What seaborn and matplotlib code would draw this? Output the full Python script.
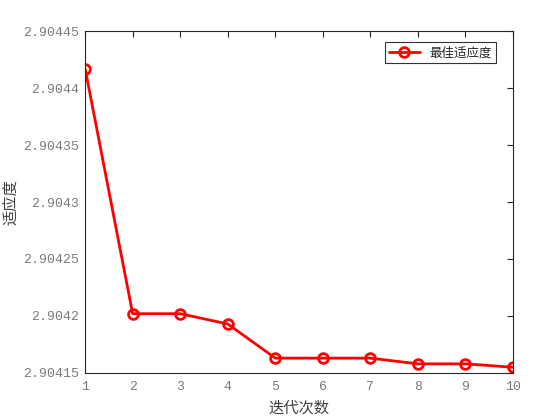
import matplotlib
matplotlib.use("Agg")
import matplotlib.pyplot as plt
import pandas as pd
import seaborn as sns
from matplotlib.ticker import FuncFormatter

iterations = [1, 2, 3, 4, 5, 6, 7, 8, 9, 10]
best_fitness = [2.904417, 2.904202, 2.904202, 2.904193, 2.904163,
                2.904163, 2.904163, 2.904158, 2.904158, 2.904155]
y_ticks = [2.90415, 2.9042, 2.90425, 2.9043, 2.90435, 2.9044, 2.90445]

sns.set_style("white")
plt.rcParams["font.family"] = ["Noto Sans CJK SC", "DejaVu Sans"]

df = pd.DataFrame({"iter": iterations, "fit": best_fitness})

fig = plt.figure(figsize=(5.6, 4.2), dpi=100)
ax = fig.add_axes([0.152, 0.112, 0.764, 0.814])
sns.lineplot(data=df, x="iter", y="fit", ax=ax, color="red", lw=2,
             marker="o", markersize=7, markerfacecolor="none",
             markeredgecolor="red", markeredgewidth=2, label="最佳适应度")

ax.set_xlim(1, 10)
ax.set_ylim(2.90415, 2.90445)
ax.set_xticks(iterations)
ax.set_yticks(y_ticks)
ax.yaxis.set_major_formatter(FuncFormatter(lambda v, p: f"{v:g}"))

for lbl in ax.get_xticklabels() + ax.get_yticklabels():
    lbl.set_fontfamily("Liberation Mono")
    lbl.set_fontsize(9.5)
    lbl.set_color("#7a7a7a")
ax.tick_params(direction="in", length=4, width=0.8, top=True, right=True,
               color="#262626", pad=4)
ax.tick_params(axis="x", pad=6)
for s in ax.spines.values():
    s.set_color("#262626")
    s.set_linewidth(0.8)
    s.set_visible(True)

ax.set_xlabel("迭代次数", fontsize=11, color="#404040")
ax.set_ylabel("适应度", fontsize=11, color="#404040")
ax.xaxis.set_label_coords(0.5, -0.077)
ax.yaxis.set_label_coords(-0.153, 0.5)

leg = ax.legend(loc="upper right", fontsize=9, frameon=True, fancybox=False,
                edgecolor="black", borderpad=0.3, handlelength=2.5,
                bbox_to_anchor=(0.975, 0.985))
leg.get_frame().set_linewidth(0.8)

fig.savefig("out.png", dpi=100)
